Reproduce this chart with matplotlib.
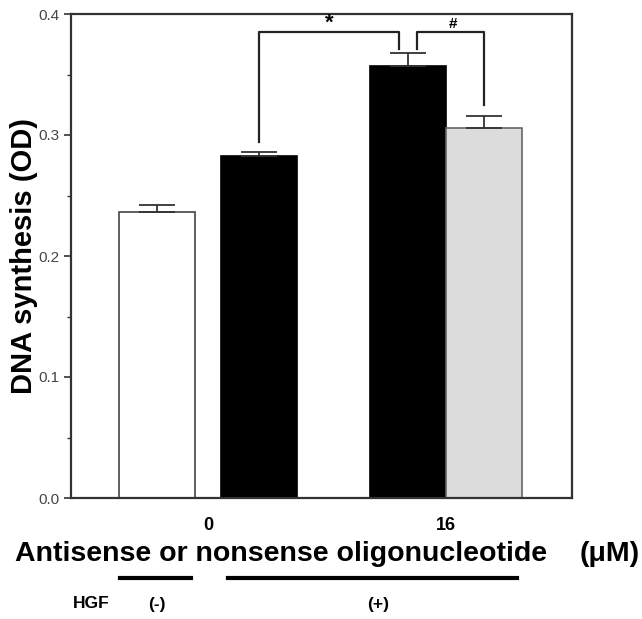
import matplotlib.pyplot as plt
from matplotlib.lines import Line2D

# bars: white = HGF(-) 0 uM, black = HGF(+) 0 uM, black = antisense 16 uM, gray = nonsense 16 uM
values = [0.236, 0.283, 0.357, 0.306]
errors = [0.006, 0.003, 0.011, 0.010]
colors = ['white', 'black', 'black', '#dcdcdc']
edges = ['#444444', 'black', 'black', '#666666']
group_labels = ['0', '16']
yticks = [0.0, 0.1, 0.2, 0.3, 0.4]

pos = [0.86, 1.88, 3.36, 4.12]
width = 0.76

plt.rcParams['font.family'] = ['Liberation Sans', 'DejaVu Sans']
fig = plt.figure(figsize=(6.42, 6.19), dpi=100)
ax = fig.add_axes([71/642, 1-498/619, 501/642, 484/619])

ax.bar(pos, values, width=width, color=colors, edgecolor=edges, linewidth=1.2, zorder=2)
ax.errorbar(pos, values, yerr=[[0]*4, errors], fmt='none', ecolor='#333333',
            elinewidth=1.3, capsize=13, capthick=1.3, zorder=3)

# significance brackets
lc = '#222222'
ax.plot([pos[1], pos[1], 3.27, 3.27], [0.294, 0.385, 0.385, 0.371], color=lc, lw=1.6)
ax.plot([3.45, 3.45, pos[3], pos[3]], [0.371, 0.385, 0.385, 0.325], color=lc, lw=1.6)
ax.text(2.58, 0.384, '*', ha='center', va='bottom', fontsize=16, fontweight='bold')
ax.text(3.81, 0.386, '#', ha='center', va='bottom', fontsize=11, fontweight='bold')

ax.set_xlim(0, 5.0)
ax.set_ylim(0, 0.4)
ax.set_yticks(yticks)
ax.set_yticklabels(['%.1f' % t for t in yticks])
ax.set_yticks([0.05, 0.15, 0.25, 0.35], minor=True)
ax.set_xticks([(pos[0]+pos[1])/2, (pos[2]+pos[3])/2])
ax.set_xticklabels(group_labels, fontsize=13, fontweight='bold')
ax.tick_params(axis='x', length=0, pad=14)
ax.tick_params(axis='y', which='major', length=5, width=1.2, labelsize=11,
               labelcolor='#444444', color='#333333')
ax.tick_params(axis='y', which='minor', length=3, width=1.0, color='#333333')
for s in ax.spines.values():
    s.set_linewidth(1.6)
    s.set_color('#333333')

fig.text(24/642, 1-256/619, 'DNA synthesis (OD)', fontsize=21, fontweight='bold',
         rotation=90, ha='center', va='center')

fig.text(15/642, 1-561/619, 'Antisense or nonsense oligonucleotide', fontsize=20.5,
         fontweight='bold', ha='left', va='baseline')
fig.text(640/642, 1-561/619, '(\u03bcM)', fontsize=20.5, fontweight='bold',
         ha='right', va='baseline')
fig.add_artist(Line2D([120/642, 191/642], [1-578/619]*2, color='black', lw=3))
fig.add_artist(Line2D([228/642, 517/642], [1-578/619]*2, color='black', lw=3))
fig.text(91/642, 1-604/619, 'HGF', fontsize=12.5, fontweight='bold', ha='center', va='center')
fig.text(157/642, 1-604/619, '(-)', fontsize=12.5, fontweight='bold', ha='center', va='center')
fig.text(378/642, 1-604/619, '(+)', fontsize=12.5, fontweight='bold', ha='center', va='center')

fig.savefig('out.png', dpi=100)
